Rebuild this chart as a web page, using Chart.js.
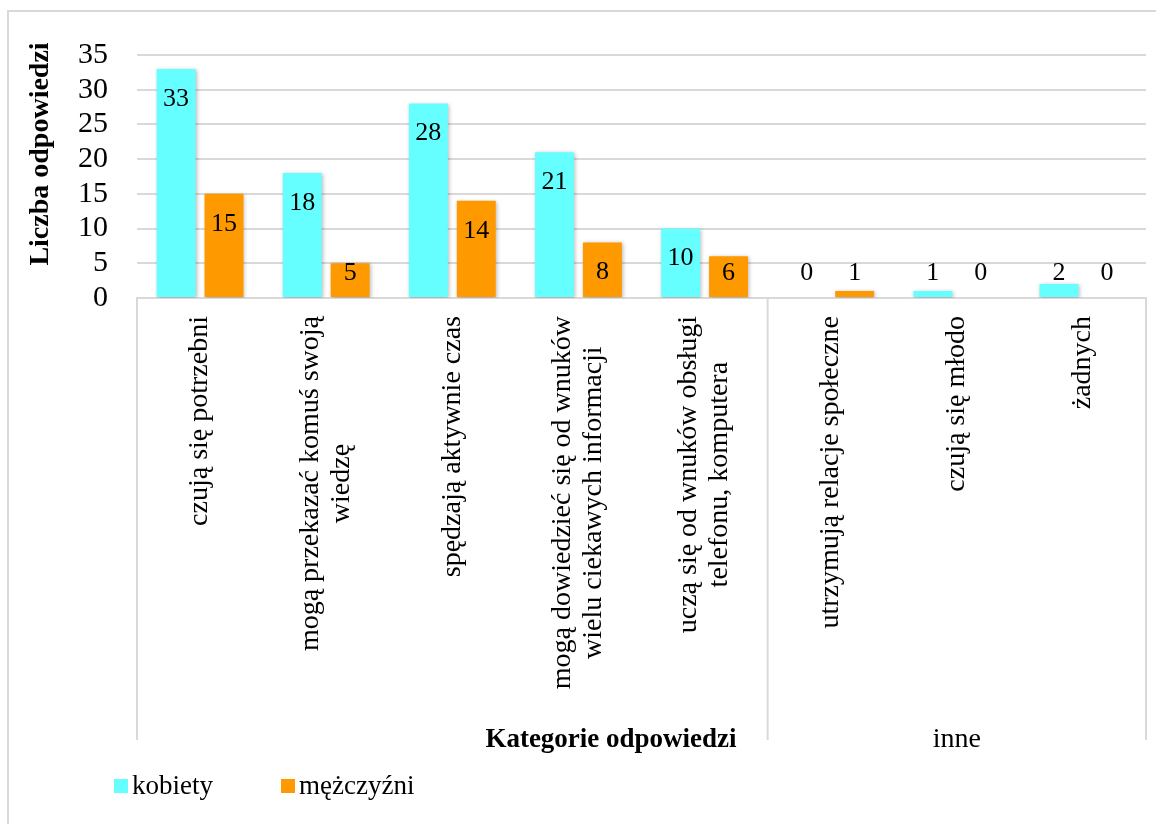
<!DOCTYPE html>
<html>
<head>
<meta charset="utf-8">
<script src="https://cdn.jsdelivr.net/npm/chart.js@4"></script>
<style>
  html, body { margin: 0; padding: 0; background: #ffffff; }
  canvas { display: block; }
</style>
</head>
<body>
<canvas id="chart" width="1156" height="824"></canvas>
<script>
// Category labels (multi-line entries are arrays of lines)
const categories = [
  ['czują się potrzebni'],
  ['mogą przekazać komuś swoją', 'wiedzę'],
  ['spędzają aktywnie czas'],
  ['mogą dowiedzieć się od wnuków', 'wielu ciekawych informacji'],
  ['uczą się od wnuków obsługi', 'telefonu, komputera'],
  ['utrzymują relacje społeczne'],
  ['czują się młodo'],
  ['żadnych']
];
// Outer category groups: [label, first index, last index]
const groups = [
  ['', 0, 4],
  ['inne', 5, 7]
];
const seriesNames = ['kobiety', 'mężczyźni'];
const kobiety = [33, 18, 28, 21, 10, 0, 1, 2];
const mezczyzni = [15, 5, 14, 8, 6, 1, 0, 0];
const yTicks = [0, 5, 10, 15, 20, 25, 30, 35];

const CYAN = '#66FFFF';
const ORANGE = '#FF9900';
const GRID = '#D9D9D9';
const SERIF = '"Liberation Serif", "Times New Roman", serif';

const W = 1156, H = 824;
const PLOT_LEFT = 137, PLOT_RIGHT = 1146, PLOT_TOP = 55, PLOT_BOTTOM = 298;

const decorations = {
  id: 'decorations',
  beforeDatasetsDraw(chart) {
    const ctx = chart.ctx;
    ctx.save();
    ctx.shadowColor = 'rgba(0,0,0,0.28)';
    ctx.shadowBlur = 4;
    ctx.shadowOffsetX = 1;
    ctx.shadowOffsetY = 1;
  },
  afterDatasetsDraw(chart) {
    chart.ctx.restore();
  },
  afterDraw(chart) {
    const ctx = chart.ctx;
    const xs = chart.scales.x;
    const ys = chart.scales.y;
    const base = ys.getPixelForValue(0);
    const area = chart.chartArea;

    // value labels on the bars
    ctx.save();
    ctx.fillStyle = '#000';
    ctx.font = '26px ' + SERIF;
    ctx.textAlign = 'center';
    ctx.textBaseline = 'middle';
    chart.data.datasets.forEach((ds, di) => {
      chart.getDatasetMeta(di).data.forEach((bar, i) => {
        const y = Math.min(bar.y + 29, base - 26);
        ctx.fillText(String(ds.data[i]), bar.x, y + 1);
      });
    });
    ctx.restore();

    // category separators of the grouped axis
    const bottomLineY = 740;
    ctx.save();
    ctx.strokeStyle = GRID;
    ctx.lineWidth = 2;
    const step = xs.getPixelForValue(1) - xs.getPixelForValue(0);
    const bounds = [area.left];
    groups.forEach(g => bounds.push(xs.getPixelForValue(g[2]) + step / 2));
    bounds.forEach(bx => {
      ctx.beginPath();
      ctx.moveTo(bx, base);
      ctx.lineTo(bx, bottomLineY);
      ctx.stroke();
    });
    ctx.restore();

    // rotated category labels
    ctx.save();
    ctx.fillStyle = '#000';
    ctx.font = '28px ' + SERIF;
    ctx.textBaseline = 'middle';
    ctx.textAlign = 'center';
    const lineH = 31;
    categories.forEach((lines, i) => {
      const cx = xs.getPixelForValue(i);
      const maxW = Math.max(...lines.map(l => ctx.measureText(l).width));
      ctx.save();
      ctx.translate(cx, base + 18);
      ctx.rotate(-Math.PI / 2);
      lines.forEach((l, k) => {
        const off = (k - (lines.length - 1) / 2) * lineH;
        ctx.fillText(l, -maxW / 2, off);
      });
      ctx.restore();
    });
    ctx.restore();

    // outer group labels
    ctx.save();
    ctx.fillStyle = '#000';
    ctx.font = '28px ' + SERIF;
    ctx.textAlign = 'center';
    ctx.textBaseline = 'alphabetic';
    groups.forEach((g, gi) => {
      if (!g[0]) return;
      const cx = (bounds[gi] + bounds[gi + 1]) / 2;
      ctx.fillText(g[0], cx, 747);
    });
    ctx.restore();

    // axis titles
    ctx.save();
    ctx.fillStyle = '#000';
    ctx.textAlign = 'center';
    ctx.textBaseline = 'alphabetic';
    ctx.font = 'bold 27px ' + SERIF;
    ctx.fillText('Kategorie odpowiedzi', 611, 747);
    ctx.font = 'bold 28px ' + SERIF;
    ctx.translate(48, 154);
    ctx.rotate(-Math.PI / 2);
    ctx.fillText('Liczba odpowiedzi', 0, 0);
    ctx.restore();

    // legend
    ctx.save();
    ctx.font = '27px ' + SERIF;
    ctx.textBaseline = 'alphabetic';
    ctx.textAlign = 'left';
    const legendItems = [[seriesNames[0], CYAN, 114], [seriesNames[1], ORANGE, 281]];
    legendItems.forEach(([name, color, lx]) => {
      ctx.fillStyle = color;
      ctx.fillRect(lx, 779, 14, 14);
      ctx.fillStyle = '#000';
      ctx.fillText(name, lx + 18, 794);
    });
    ctx.restore();

    // chart frame
    ctx.save();
    ctx.strokeStyle = GRID;
    ctx.lineWidth = 2;
    ctx.beginPath();
    ctx.moveTo(W + 5, 11);
    ctx.lineTo(8, 11);
    ctx.lineTo(8, H + 5);
    ctx.stroke();
    ctx.restore();
  }
};

new Chart(document.getElementById('chart'), {
  type: 'bar',
  data: {
    labels: categories,
    datasets: [
      { label: seriesNames[0], data: kobiety, backgroundColor: CYAN, borderWidth: 0 },
      { label: seriesNames[1], data: mezczyzni, backgroundColor: ORANGE, borderWidth: 0 }
    ]
  },
  options: {
    responsive: false,
    animation: false,
    devicePixelRatio: 1,
    datasets: { bar: { categoryPercentage: 0.76, barPercentage: 0.8125 } },
    layout: { padding: { top: PLOT_TOP, right: W - PLOT_RIGHT, bottom: 0, left: 0 } },
    plugins: { legend: { display: false }, tooltip: { enabled: false } },
    scales: {
      x: {
        ticks: { display: false },
        grid: { display: false, drawTicks: false },
        border: { display: true, color: GRID, width: 2 },
        afterFit(scale) { scale.height = H - PLOT_BOTTOM; }
      },
      y: {
        min: 0,
        max: 35,
        afterBuildTicks(scale) { scale.ticks = yTicks.map(v => ({ value: v })); },
        ticks: {
          color: '#000',
          font: { family: SERIF, size: 30 },
          padding: 29,
          autoSkip: false
        },
        grid: { color: GRID, lineWidth: 2, drawTicks: false },
        border: { display: false },
        afterFit(scale) { scale.width = PLOT_LEFT; }
      }
    }
  },
  plugins: [decorations]
});
</script>
</body>
</html>
